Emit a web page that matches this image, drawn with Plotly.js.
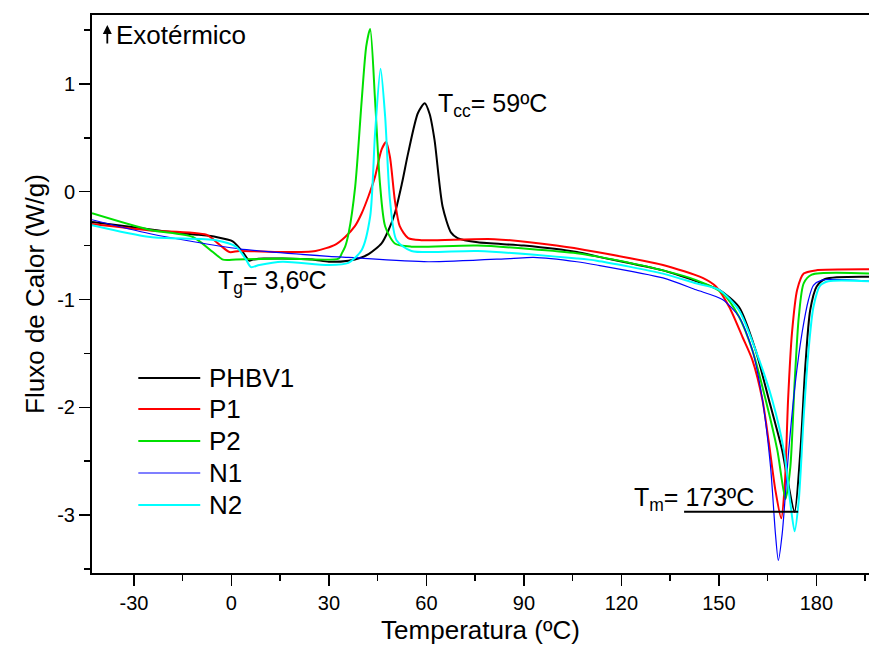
<!DOCTYPE html>
<html>
<head>
<meta charset="utf-8">
<script src="https://cdn.plot.ly/plotly-3.0.1.min.js"></script>
<style>html,body{margin:0;padding:0;background:#fff;}#chart{width:869px;height:650px;}</style>
</head>
<body>
<div id="chart"></div>
<script>
// ---- data ----
const seriesNames = ["PHBV1", "P1", "P2", "N1", "N2"];
const seriesColors = ["#000000", "#ff0000", "#00e000", "#0000ff", "#00ffff"];
const seriesWidths = [2, 2, 2, 1.2, 2];

const tPHBV1 = [-42.9, -30, -20, -10, -4.7, 0.4, 3.5, 5.5, 6.6, 10, 15.7, 25, 30, 36, 40, 42.2, 46.2, 48.3, 50.3, 52.5, 54.4, 57.4, 59.5, 61, 62.5, 65.0, 67.6, 69.6, 75.8, 90, 106.3, 112.4, 132.8, 143, 150.1, 156.2, 161.3, 165.4, 169.5, 171.3, 173.3, 175.1, 176.6, 178.1, 180.1, 182.7, 196.5];
const fPHBV1 = [-0.28, -0.33, -0.37, -0.40, -0.42, -0.46, -0.56, -0.64, -0.63, -0.62, -0.62, -0.63, -0.65, -0.64, -0.61, -0.58, -0.48, -0.36, -0.20, 0.08, 0.36, 0.73, 0.82, 0.72, 0.48, -0.14, -0.38, -0.43, -0.47, -0.50, -0.56, -0.60, -0.73, -0.83, -0.91, -1.07, -1.47, -1.93, -2.40, -2.70, -2.97, -2.40, -1.62, -1.10, -0.88, -0.81, -0.79];

const tP1 = [-42.9, -25, -7.7, -3.7, -0.6, 2.4, 15.7, 25.9, 32, 35, 38, 40.1, 42.2, 44.2, 46.2, 47.6, 48.8, 50.3, 51.8, 54.4, 58.4, 80.9, 100, 112.4, 132.8, 145, 149.1, 153.2, 157.3, 160.3, 163.4, 165.4, 167.4, 169.2, 170.3, 171.3, 172.5, 174.1, 176.1, 179.7, 196.5];
const fP1 = [-0.30, -0.36, -0.40, -0.49, -0.56, -0.55, -0.56, -0.55, -0.49, -0.42, -0.32, -0.20, -0.04, 0.14, 0.39, 0.46, 0.32, -0.08, -0.32, -0.43, -0.45, -0.44, -0.50, -0.56, -0.68, -0.80, -0.88, -1.07, -1.35, -1.56, -1.93, -2.33, -2.77, -3.03, -2.71, -1.93, -1.31, -0.91, -0.76, -0.73, -0.72];

const tP2 = [-42.9, -25, -11.9, -5.7, -2.6, 1.4, 15.7, 33, 34, 35, 36.1, 38.1, 40.1, 41.5, 42.7, 44.2, 45.7, 47.3, 50.3, 55.4, 75.8, 106.3, 112.4, 132.8, 143, 151.1, 156.2, 160.3, 164.4, 168, 170.5, 172, 173.3, 174.6, 176.1, 178.6, 196.5];
const fP2 = [-0.20, -0.355, -0.42, -0.56, -0.63, -0.63, -0.62, -0.62, -0.57, -0.51, -0.38, 0.05, 0.85, 1.35, 1.51, 0.85, 0.08, -0.32, -0.48, -0.51, -0.50, -0.57, -0.60, -0.73, -0.82, -0.94, -1.16, -1.47, -1.93, -2.40, -2.85, -2.55, -1.78, -1.16, -0.85, -0.77, -0.76];

const tN1 = [-42.9, -25, 2.4, 30, 36, 60.5, 85.9, 93, 106.3, 112.4, 132.8, 143, 151.1, 156.2, 160.3, 163.4, 165.9, 167.4, 168.3, 169.5, 171.5, 173.5, 175.6, 177.6, 179.1, 181.7, 196.5];
const fN1 = [-0.26, -0.39, -0.53, -0.60, -0.61, -0.65, -0.62, -0.61, -0.65, -0.68, -0.80, -0.91, -1.0, -1.16, -1.47, -1.93, -2.55, -3.17, -3.42, -3.17, -2.40, -1.78, -1.31, -1.0, -0.87, -0.82, -0.83];

const tN2 = [-42.9, -25, -4.7, 1.4, 4.5, 6, 8.6, 15.7, 30, 36, 40.1, 42.7, 44.2, 45.9, 47.3, 48.8, 50.8, 55.4, 75.8, 106.3, 112.4, 132.8, 143, 150.1, 156.2, 161.3, 166.4, 170, 172, 173.3, 174.6, 176.1, 177.6, 179.1, 181.2, 183.7, 196.5];
const fN2 = [-0.31, -0.42, -0.45, -0.51, -0.63, -0.70, -0.68, -0.65, -0.68, -0.66, -0.54, -0.23, 0.54, 1.14, 0.70, -0.08, -0.45, -0.55, -0.55, -0.62, -0.64, -0.76, -0.85, -0.91, -1.10, -1.47, -1.93, -2.40, -2.89, -3.15, -2.86, -2.09, -1.47, -1.07, -0.87, -0.83, -0.83];

const tmLineX = [139.3, 174.4];
const tmLineY = [-2.97, -2.97];

const xTicks = [-30, 0, 30, 60, 90, 120, 150, 180];
const yTicks = [-3, -2, -1, 0, 1];

// ---- chart ----
const FONT = "Arial, 'Liberation Sans', sans-serif";
const xs = [tPHBV1, tP1, tP2, tN1, tN2];
const ys = [fPHBV1, fP1, fP2, fN1, fN2];

const traces = seriesNames.map((n, i) => ({
  x: xs[i], y: ys[i], name: n, type: 'scatter', mode: 'lines',
  line: {color: seriesColors[i], width: seriesWidths[i], shape: 'spline', smoothing: 0.7},
  showlegend: false, hoverinfo: 'skip'
}));
traces.push({x: tmLineX, y: tmLineY, mode: 'lines', line: {color: '#000', width: 2}, showlegend: false, hoverinfo: 'skip'});

const shapes = [];
const annotations = [];
const legY = [0.3495, 0.2939, 0.2366, 0.1792, 0.1219];
seriesNames.forEach((n, i) => {
  shapes.push({type: 'line', xref: 'paper', yref: 'paper', x0: 0.0596, x1: 0.1393, y0: legY[i], y1: legY[i],
    line: {color: seriesColors[i], width: seriesWidths[i]}});
  annotations.push({xref: 'paper', yref: 'paper', x: 0.1475, y: legY[i], xanchor: 'left', yanchor: 'middle',
    text: n, showarrow: false, font: {family: FONT, size: 26, color: '#000'}});
});

annotations.push({xref: 'paper', yref: 'paper', x: 0.0197, y: 0.982, text: '', showarrow: true,
  ax: 0, ay: 20, arrowhead: 2, arrowsize: 1, arrowwidth: 1.8, arrowcolor: '#000'});
annotations.push({xref: 'paper', yref: 'paper', x: 0.0285, y: 0.964, xanchor: 'left', yanchor: 'middle',
  text: 'Exotérmico', showarrow: false, font: {family: FONT, size: 26, color: '#000'}});
annotations.push({x: 63.0, y: 0.80, xanchor: 'left', yanchor: 'middle', text: 'T<sub>cc</sub>= 59ºC',
  showarrow: false, font: {family: FONT, size: 25, color: '#000'}});
annotations.push({x: -4.7, y: -0.84, xanchor: 'left', yanchor: 'middle', text: 'T<sub>g</sub>= 3,6ºC',
  showarrow: false, font: {family: FONT, size: 25, color: '#000'}});
annotations.push({x: 123.2, y: -2.85, xanchor: 'left', yanchor: 'middle', text: 'T<sub>m</sub>= 173ºC',
  showarrow: false, font: {family: FONT, size: 25, color: '#000'}});

const layout = {
  width: 869, height: 650,
  margin: {l: 92, r: 0, t: 15, b: 77},
  paper_bgcolor: '#fff', plot_bgcolor: '#fff',
  font: {family: FONT, color: '#000'},
  showlegend: false,
  xaxis: {
    range: [-42.9, 196.2], tickvals: xTicks, ticktext: xTicks.map(String),
    ticks: 'outside', ticklen: 11, tickwidth: 1.5, tickcolor: '#000',
    minor: {dtick: 15, tick0: 0, ticks: 'outside', ticklen: 6, tickwidth: 1.5, tickcolor: '#000'},
    showline: true, linewidth: 2, linecolor: '#000', mirror: true,
    showgrid: false, zeroline: false,
    tickfont: {family: FONT, size: 20},
    title: {text: 'Temperatura (ºC)', font: {family: FONT, size: 26}, standoff: 8}
  },
  yaxis: {
    range: [-3.537, 1.639], tickvals: yTicks, ticktext: yTicks.map(String),
    ticks: 'outside', ticklen: 11, tickwidth: 1.5, tickcolor: '#000',
    minor: {dtick: 0.5, tick0: 0, ticks: 'outside', ticklen: 6, tickwidth: 1.5, tickcolor: '#000'},
    showline: true, linewidth: 2, linecolor: '#000',
    showgrid: false, zeroline: false,
    tickfont: {family: FONT, size: 20},
    title: {text: 'Fluxo de Calor (W/g)', font: {family: FONT, size: 26}, standoff: 5}
  },
  shapes: shapes,
  annotations: annotations
};

Plotly.newPlot('chart', traces, layout, {staticPlot: true, displayModeBar: false});
</script>
</body>
</html>
